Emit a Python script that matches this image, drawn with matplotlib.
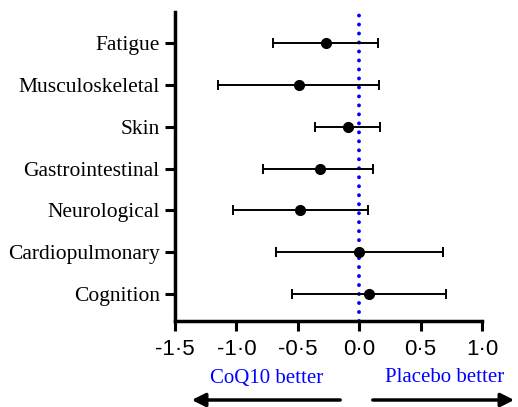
import matplotlib.pyplot as plt
from matplotlib.patches import FancyArrowPatch

domains = ["Fatigue", "Musculoskeletal", "Skin", "Gastrointestinal",
           "Neurological", "Cardiopulmonary", "Cognition"]
effect = [-0.27, -0.49, -0.09, -0.32, -0.48, 0.00, 0.08]
ci_low = [-0.70, -1.15, -0.36, -0.78, -1.03, -0.68, -0.55]
ci_high = [0.15, 0.16, 0.17, 0.11, 0.07, 0.68, 0.71]
xticks = [-1.5, -1.0, -0.5, 0.0, 0.5, 1.0]
xtick_labels = ["-1·5", "-1·0", "-0·5", "0·0", "0·5", "1·0"]

fig = plt.figure(figsize=(5.18, 4.07), dpi=100)
ax = fig.add_axes([0.3378, 0.2113, 0.5927, 0.7592])

ypos = list(range(len(domains)))
err_lo = [e - l for e, l in zip(effect, ci_low)]
err_hi = [h - e for e, h in zip(effect, ci_high)]

# dotted reference line at zero
ax.axvline(0, color="blue", linestyle=(0, (0.01, 2.3)), linewidth=2.8,
           dash_capstyle="round", zorder=1)
ax.errorbar(effect, ypos, xerr=[err_lo, err_hi], fmt="o", color="black",
            markersize=7, elinewidth=1.4, capsize=3.3, capthick=1.4, zorder=3)

ax.set_xlim(-1.5, 1.0)
ax.set_ylim(6.64, -0.74)
ax.set_yticks(ypos)
ax.set_yticklabels(domains, family="Liberation Serif", fontsize=15.5)
ax.set_xticks(xticks)
ax.set_xticklabels(xtick_labels, family="Liberation Sans", fontsize=16)

for side in ["top", "right"]:
    ax.spines[side].set_visible(False)
for side in ["left", "bottom"]:
    ax.spines[side].set_linewidth(2.5)
ax.tick_params(width=2.2, length=7)
ax.tick_params(axis="x", pad=6)
ax.tick_params(axis="y", pad=4)

fig.text(267 / 518, 1 - 378 / 407, "CoQ10 better", color="blue", ha="center",
         va="center", family="Liberation Serif", fontsize=15)
fig.text(445 / 518, 1 - 378 / 407, "Placebo better", color="blue", ha="center",
         va="center", family="Liberation Serif", fontsize=15)

arrow = dict(arrowstyle="-|>", color="black", lw=2.5, mutation_scale=20)
fig.add_artist(FancyArrowPatch((343 / 518, 1 - 400 / 407), (189 / 518, 1 - 400 / 407),
                               transform=fig.transFigure, **arrow))
fig.add_artist(FancyArrowPatch((370 / 518, 1 - 400 / 407), (517 / 518, 1 - 400 / 407),
                               transform=fig.transFigure, **arrow))

fig.savefig("out.png", dpi=100)
